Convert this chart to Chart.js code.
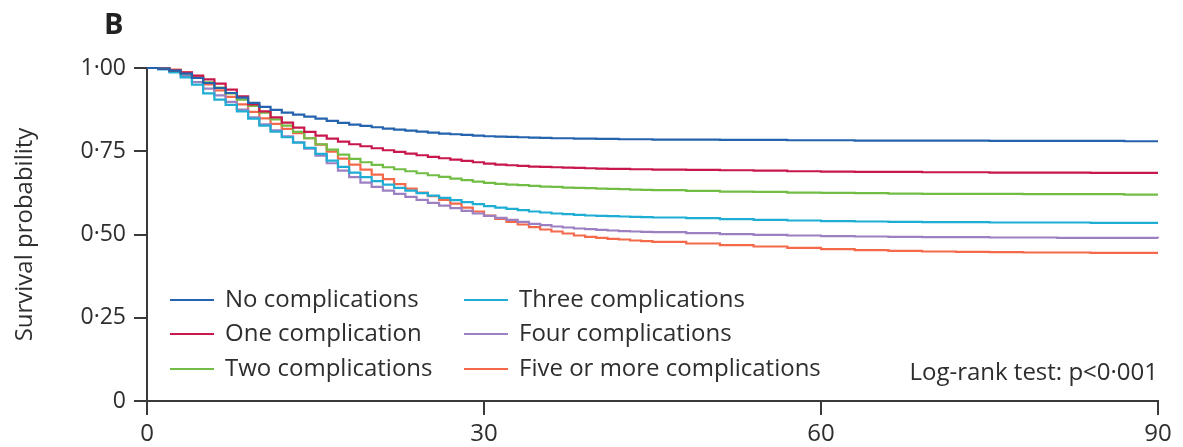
<!DOCTYPE html>
<html>
<head>
<meta charset="utf-8">
<script src="https://cdn.jsdelivr.net/npm/chart.js@4/dist/chart.umd.min.js"></script>
<style>
  body { margin: 0; background: #fff; }
  #wrap { width: 1183px; height: 447px; }
</style>
</head>
<body>
<div id="wrap"><canvas id="km"></canvas></div>
<script>
// days since admission (daily steps early on, every 3 days once curves flatten)
const days = [0,1,2,3,4,5,6,7,8,9,10,11,12,13,14,15,16,17,18,19,20,21,22,23,24,25,26,27,28,29,30,
  31,32,33,34,35,36,37,38,39,40,41,42,43,44,45,48,51,54,57,60,63,66,69,72,75,78,81,84,87,90];

// survival probability per group
const noComp = [1.000,.998,.992,.983,.970,.955,.940,.925,.911,.895,.883,.874,.866,.860,.854,.848,.841,.835,.830,.826,.822,
  .818,.815,.812,.809,.806,.803,.801,.799,.797,.795,.794,.793,.792,.791,.790,.789,.789,.788,.788,.787,
  .787,.786,.786,.786,.785,.785,.784,.784,.783,.783,.782,.782,.782,.782,.781,.781,.781,.781,.780,.780];
const oneComp = [1.000,.998,.993,.986,.977,.966,.953,.935,.915,.891,.870,.852,.836,.821,.808,.797,.788,.779,.771,.765,.759,
  .753,.748,.743,.738,.733,.729,.725,.721,.717,.713,.710,.708,.706,.704,.703,.702,.701,.700,.699,.698,
  .697,.697,.696,.696,.695,.694,.693,.692,.690,.689,.688,.688,.687,.687,.686,.686,.686,.685,.685,.685];
const twoComp = [1.000,.998,.992,.983,.971,.957,.941,.924,.905,.886,.866,.846,.827,.808,.789,.771,.755,.740,.727,.717,.709,
  .702,.696,.690,.684,.678,.673,.668,.663,.659,.655,.652,.650,.648,.646,.644,.643,.641,.640,.639,.638,
  .637,.636,.635,.634,.633,.631,.629,.628,.626,.625,.624,.623,.622,.622,.622,.621,.621,.621,.620,.620];
const threeComp = [1.000,.996,.987,.972,.950,.924,.905,.889,.870,.848,.827,.809,.792,.776,.760,.742,.722,.703,.686,.672,.660,
  .650,.640,.632,.624,.617,.610,.603,.597,.591,.585,.581,.577,.573,.569,.566,.563,.561,.559,.557,.556,
  .555,.554,.553,.552,.551,.549,.546,.544,.542,.540,.539,.538,.537,.537,.536,.536,.536,.535,.535,.535];
const fourComp = [1.000,.997,.989,.976,.958,.938,.918,.898,.875,.852,.831,.813,.795,.777,.758,.737,.714,.692,.672,.656,.643,
  .632,.622,.613,.604,.595,.587,.579,.571,.563,.556,.550,.544,.538,.532,.528,.524,.521,.518,.516,.514,
  .512,.510,.509,.508,.507,.504,.501,.499,.497,.495,.494,.493,.492,.492,.491,.491,.490,.490,.490,.489];
const fivePlus = [1.000,.999,.995,.988,.972,.951,.933,.913,.891,.868,.849,.832,.817,.804,.789,.770,.749,.728,.710,.695,.680,
  .666,.651,.638,.626,.615,.604,.593,.581,.569,.557,.547,.538,.530,.522,.515,.509,.503,.497,.493,.490,
  .487,.485,.482,.480,.478,.473,.468,.464,.460,.456,.453,.451,.449,.448,.447,.446,.446,.445,.445,.445];

const groupLabels = ['No complications', 'One complication', 'Two complications',
  'Three complications', 'Four complications', 'Five or more complications'];
const groupColors = ['#2463ad', '#c8174c', '#72bd45', '#1fadd3', '#9c80c2', '#f4694a'];
const groupData = [noComp, oneComp, twoComp, threeComp, fourComp, fivePlus];

const yTicks = [0, 0.25, 0.5, 0.75, 1];
const xTicks = [0, 30, 60, 90];

const FONT = '"Open Sans"';
const INK = '#2e2e2e';
const AXIS = '#3a3a3a';

// panel letter, legend (2 columns x 3 rows) and log-rank note
const annotations = {
  id: 'annotations',
  afterDraw(chart) {
    const ctx = chart.ctx;
    const area = chart.chartArea;
    ctx.save();
    ctx.fillStyle = '#222';
    ctx.font = 'bold 29px ' + FONT;
    ctx.textBaseline = 'alphabetic';
    ctx.textAlign = 'left';
    ctx.fillText('B', 104, 34);

    ctx.font = '24px ' + FONT;
    ctx.textBaseline = 'middle';
    const colX = [area.left + 23, area.left + 317];
    const rowY = [area.top + 232, area.top + 266, area.top + 301];
    chart.data.datasets.forEach((ds, i) => {
      const cx = colX[Math.floor(i / 3)];
      const cy = rowY[i % 3];
      ctx.strokeStyle = ds.borderColor;
      ctx.lineWidth = 2;
      ctx.beginPath();
      ctx.moveTo(cx, cy);
      ctx.lineTo(cx + 44, cy);
      ctx.stroke();
      ctx.fillStyle = INK;
      ctx.fillText(ds.label, cx + 55, cy);
    });

    ctx.textAlign = 'right';
    ctx.fillText('Log-rank test: p<0\u00b7001', area.right, area.top + 305);
    ctx.restore();
  }
};

new Chart(document.getElementById('km'), {
  type: 'line',
  data: {
    datasets: groupData.map((vals, i) => ({
      label: groupLabels[i],
      data: days.map((d, j) => ({ x: d, y: vals[j] })),
      borderColor: groupColors[i],
      borderWidth: 2.2,
      pointRadius: 0,
      stepped: true,
      clip: 4
    }))
  },
  options: {
    responsive: true,
    maintainAspectRatio: false,
    animation: false,
    layout: { padding: { top: 68, right: 25, left: 0, bottom: 0 } },
    plugins: { legend: { display: false }, tooltip: { enabled: false } },
    scales: {
      x: {
        type: 'linear',
        min: 0, max: 90,
        afterBuildTicks: s => { s.ticks = xTicks.map(v => ({ value: v })); },
        afterFit: s => { s.height = 46; },
        grid: { drawOnChartArea: false, drawTicks: true, tickLength: 14, color: AXIS, lineWidth: 2 },
        border: { color: AXIS, width: 2 },
        ticks: { color: INK, padding: 5, font: { family: FONT, size: 24 }, maxRotation: 0 }
      },
      y: {
        min: 0, max: 1,
        afterBuildTicks: s => { s.ticks = yTicks.map(v => ({ value: v })); },
        afterFit: s => { s.width = 147; },
        grid: { drawOnChartArea: false, drawTicks: true, tickLength: 13, color: AXIS, lineWidth: 2 },
        border: { color: AXIS, width: 2 },
        ticks: {
          color: INK, padding: 8, font: { family: FONT, size: 23 },
          callback: v => v === 0 ? '0' : v.toFixed(2).replace('.', '\u00b7')
        },
        title: {
          display: true, text: 'Survival probability', color: INK,
          font: { family: FONT, size: 24 }, padding: { top: 11, bottom: 0 }
        }
      }
    }
  },
  plugins: [annotations]
});
</script>
</body>
</html>
